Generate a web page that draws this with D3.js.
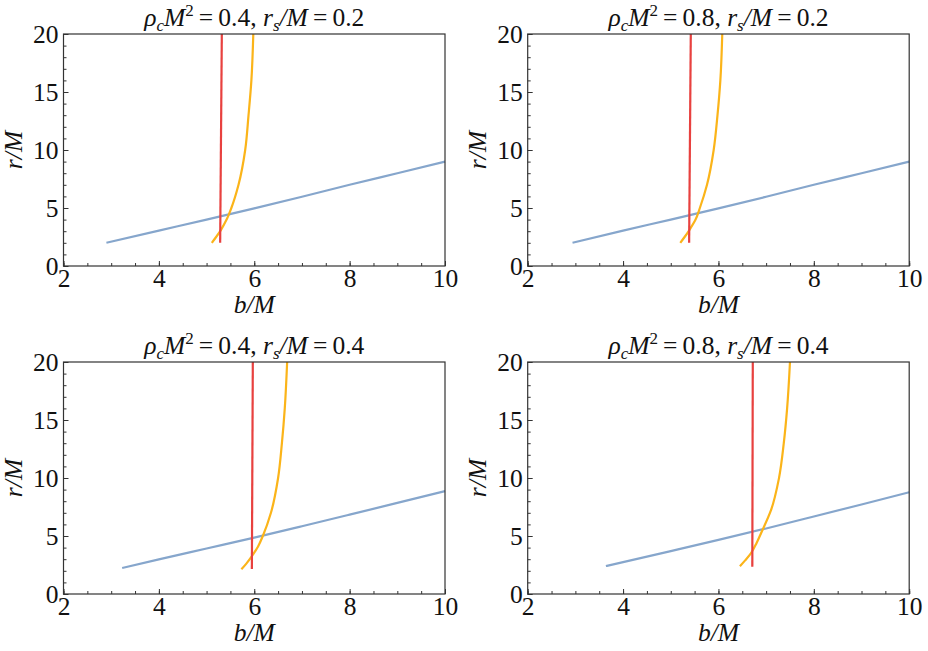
<!DOCTYPE html>
<html>
<head>
<meta charset="utf-8">
<script src="https://cdn.jsdelivr.net/npm/d3@7"></script>
<style>
  body { margin: 0; background: #fff; }
</style>
</head>
<body>
<svg id="chart" width="928" height="651"></svg>
<script>
// panel parameters (rho_c M^2, r_s/M)
var rhoValues = ['0.4', '0.8', '0.4', '0.8']
var rsValues = ['0.2', '0.2', '0.4', '0.4']

// blue curves [b/M, r/M]
var blueTL = [[2.9, 2.0], [4, 3.05], [5, 4.0], [6, 4.97], [7, 5.97], [8, 7.0], [9, 8.0], [10, 9.0]]
var blueTR = [[2.94, 2.0], [4, 3.05], [5, 4.0], [6, 4.97], [7, 5.97], [8, 7.0], [9, 8.0], [10, 9.0]]
var blueBL = [[3.23, 2.24], [4, 2.98], [5, 3.92], [6, 4.86], [7, 5.84], [8, 6.84], [9, 7.85], [10, 8.87]]
var blueBR = [[3.64, 2.41], [4, 2.75], [5, 3.7], [6, 4.66], [7, 5.65], [8, 6.68], [9, 7.72], [10, 8.77]]

// red curves
var redTL = [[5.285, 2.0], [5.32, 20]]
var redTR = [[5.385, 2.0], [5.42, 20]]
var redBL = [[5.95, 2.15], [5.97, 20]]
var redBR = [[6.71, 2.35], [6.72, 20]]

// orange curves
var orangeTL = [[5.11, 2.0], [5.2, 2.5], [5.3, 3.1], [5.42, 4.0], [5.52, 5.0], [5.67, 7], [5.81, 10], [5.88, 13], [5.94, 16], [5.98, 20]]
var orangeTR = [[5.2, 2.0], [5.29, 2.5], [5.39, 3.1], [5.52, 4.0], [5.61, 5.0], [5.76, 7], [5.9, 10], [5.98, 13], [6.04, 16], [6.08, 20]]
var orangeBL = [[5.73, 2.13], [5.83, 2.6], [5.94, 3.2], [6.08, 4.1], [6.18, 5.0], [6.35, 7], [6.5, 10], [6.58, 13], [6.64, 16], [6.69, 20]]
var orangeBR = [[6.45, 2.4], [6.56, 2.9], [6.68, 3.5], [6.8, 4.4], [6.9, 5.3], [7.1, 7.2], [7.27, 10], [7.37, 13], [7.44, 16], [7.5, 20]]

var xTicks = [2, 4, 6, 8, 10]
var yTicks = [0, 5, 10, 15, 20]

var panels = [
  { left: 63.5, top: 34, blue: blueTL, red: redTL, orange: orangeTL },
  { left: 527.7, top: 34, blue: blueTR, red: redTR, orange: orangeTR },
  { left: 63.5, top: 362, blue: blueBL, red: redBL, orange: orangeBL },
  { left: 527.7, top: 362, blue: blueBR, red: redBR, orange: orangeBR }
]
var W = 381.5
var H = 232
var FONT = 'Liberation Serif'
var FS = 25.5

var svg = d3.select('#chart')

panels.forEach(function (p, i) {
  var g = svg.append('g').attr('transform', `translate(${p.left},${p.top})`)
  var x = d3.scaleLinear().domain([2, 10]).range([0, W])
  var y = d3.scaleLinear().domain([0, 20]).range([H, 0])

  // minor ticks
  g.append('g')
    .attr('transform', `translate(0,${H})`)
    .call(d3.axisBottom(x).tickValues(d3.range(2, 10.01, 0.5)).tickSize(-3).tickFormat(''))
  g.append('g')
    .call(d3.axisLeft(y).tickValues(d3.range(0, 20.01, 1)).tickSize(-3).tickFormat(''))

  // major ticks
  var xa = g.append('g')
    .attr('transform', `translate(0,${H})`)
    .call(d3.axisBottom(x).tickValues(xTicks).tickSize(-5).tickPadding(3).tickFormat(d3.format('d')))
  var ya = g.append('g')
    .call(d3.axisLeft(y).tickValues(yTicks).tickSize(-5).tickPadding(5).tickFormat(d3.format('d')))
  g.selectAll('.domain').remove()
  g.selectAll('.tick line').attr('stroke', '#333')
  xa.selectAll('text').attr('font-size', FS).attr('fill', '#111').attr('dy', '0.7em')
  ya.selectAll('text').attr('font-size', FS).attr('fill', '#111')

  // data lines
  var line = d3.line().x(d => x(d[0])).y(d => y(d[1]))
  var curve = d3.line().x(d => x(d[0])).y(d => y(d[1])).curve(d3.curveMonotoneY)
  g.append('path').datum(p.blue).attr('d', curve).attr('fill', 'none')
    .attr('stroke', '#86a6cc').attr('stroke-width', 2.2)
  g.append('path').datum(p.orange).attr('d', curve).attr('fill', 'none')
    .attr('stroke', '#fbb419').attr('stroke-width', 2.2)
  g.append('path').datum(p.red).attr('d', line).attr('fill', 'none')
    .attr('stroke', '#e8413f').attr('stroke-width', 2.2)

  // frame
  g.append('rect').attr('width', W).attr('height', H)
    .attr('fill', 'none').attr('stroke', '#333').attr('stroke-width', 1.2)

  // title
  var t = g.append('text').attr('x', W / 2).attr('y', -8)
    .attr('text-anchor', 'middle').attr('font-size', FS).attr('fill', '#111')
  t.append('tspan').attr('font-style', 'italic').text('ρ')
  t.append('tspan').attr('font-style', 'italic').attr('font-size', 17).attr('dy', 5).text('c')
  t.append('tspan').attr('font-style', 'italic').attr('dy', -5).text('M')
  t.append('tspan').attr('font-size', 17).attr('dy', -10).text('2')
  t.append('tspan').attr('dy', 10).text('\u2009=\u2009' + rhoValues[i] + ', ')
  t.append('tspan').attr('font-style', 'italic').text('r')
  t.append('tspan').attr('font-style', 'italic').attr('font-size', 17).attr('dy', 5).text('s')
  t.append('tspan').attr('font-style', 'italic').attr('dy', -5).text('/M')
  t.append('tspan').text('\u2009=\u2009' + rsValues[i])

  // axis labels
  g.append('text').attr('x', W / 2).attr('y', H + 47)
    .attr('text-anchor', 'middle').attr('font-size', FS).attr('font-style', 'italic')
    .attr('fill', '#111').text('b/M')
  g.append('text')
    .attr('transform', `translate(-42,${H / 2}) rotate(-90)`)
    .attr('text-anchor', 'middle').attr('font-size', FS).attr('font-style', 'italic')
    .attr('fill', '#111').text('r/M')
})

svg.selectAll('g').attr('font-family', FONT)
svg.selectAll('text, tspan').attr('font-family', FONT).style('font-family', FONT)
</script>
</body>
</html>
